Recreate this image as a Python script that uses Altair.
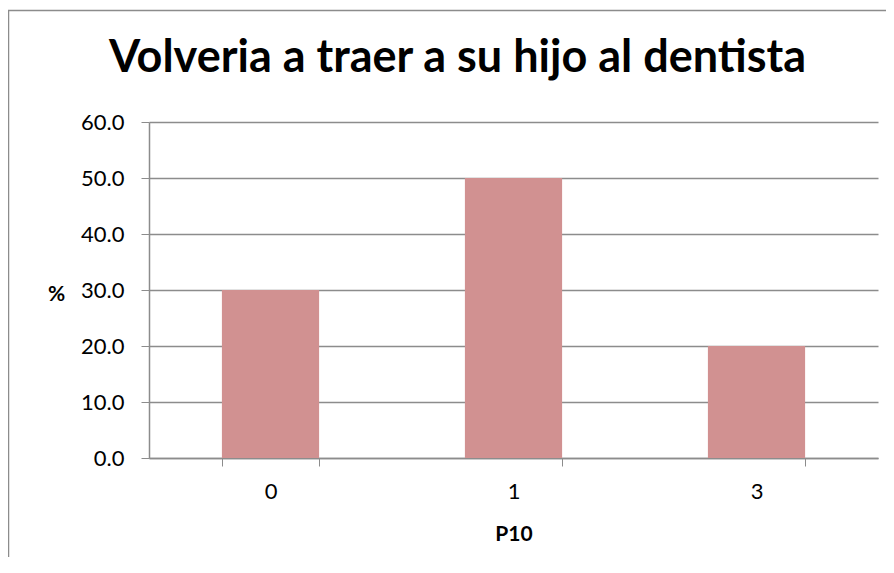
import altair as alt
import pandas as pd

categories = ["0", "1", "3"]
values = [30.0, 50.0, 20.0]
y_ticks = [0, 10, 20, 30, 40, 50, 60]

df = pd.DataFrame({"P10": categories, "pct": values})

GRID = "#8c8c8c"
FONT = "Lato"

bars = alt.Chart(df).mark_bar(color="#D19191").encode(
    x=alt.X(
        "P10:N",
        sort=categories,
        scale=alt.Scale(paddingInner=0.6, paddingOuter=0.3),
        axis=alt.Axis(
            title="P10",
            labelAngle=0,
            tickBand="extent",
            tickSize=8,
            tickColor=GRID,
            domainColor=GRID,
            domainWidth=1.5,
            grid=False,
            labelFont=FONT,
            labelFontSize=22,
            labelColor="#000000",
            labelPadding=15,
            titleFont=FONT,
            titleFontSize=21,
            titleFontWeight="bold",
            titleColor="#000000",
            titleY=82,
            titleBaseline="alphabetic",
        ),
    ),
    y=alt.Y(
        "pct:Q",
        scale=alt.Scale(domain=[0, 60], nice=False),
        axis=alt.Axis(
            title="%",
            values=y_ticks,
            format=".1f",
            tickSize=8,
            tickColor=GRID,
            domainColor=GRID,
            domainWidth=1.5,
            gridColor=GRID,
            gridWidth=1.5,
            labelFont=FONT,
            labelFontSize=22,
            labelColor="#000000",
            labelPadding=17,
            titleFont=FONT,
            titleFontSize=21,
            titleFontWeight="bold",
            titleColor="#000000",
            titleAngle=0,
            titleX=-93,
            titleY=178,
            titleAlign="center",
            titleBaseline="alphabetic",
        ),
    ),
)

border = alt.Chart(pd.DataFrame({"k": [0]})).mark_rect(
    filled=False, stroke=GRID, strokeWidth=1.5
).encode(
    x=alt.value(-140.5), x2=alt.value(800), y=alt.value(-111.5), y2=alt.value(600)
)

chart = alt.layer(border, bars).properties(
    width=729,
    height=336,
    padding={"left": 141, "top": 114, "right": 8, "bottom": 99},
    autosize=alt.AutoSizeParams(type="none"),
    title=alt.TitleParams(
        text="Volveria a traer a su hijo al dentista",
        font=FONT,
        fontSize=45,
        fontWeight="bold",
        color="#000000",
        anchor="middle",
        frame="group",
        dx=-56,
        offset=0,
        dy=107,
        baseline="alphabetic",
    ),
).configure_view(stroke=None)

chart.save("out.html", embed_options={"renderer": "svg", "actions": False})
